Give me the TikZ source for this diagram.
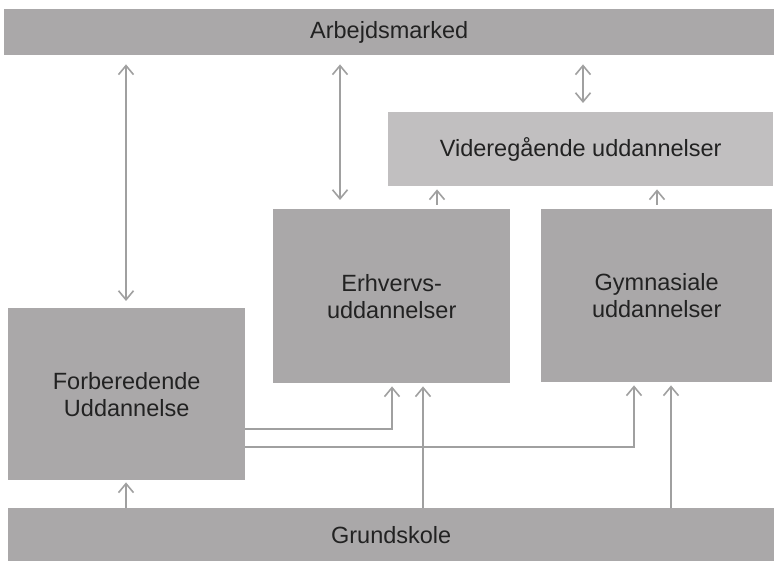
\documentclass[tikz,border=0pt]{standalone}
\usepackage{fontspec}
\setmainfont{Liberation Sans}
\usetikzlibrary{arrows.meta}
\definecolor{boxgray}{RGB}{170,168,169}
\definecolor{lightbox}{RGB}{193,191,192}
\definecolor{arrgray}{RGB}{160,160,160}
\definecolor{txt}{RGB}{34,34,34}
\begin{document}
\begin{tikzpicture}[x=1pt,y=-1pt,
  box/.style={fill=boxgray, draw=none, inner sep=0pt, anchor=north west, align=center,
    text=txt, font=\fontsize{23.5}{27}\selectfont},
  tip/.tip={Straight Barb[length=9pt,width=15pt]},
  arr/.style={draw=arrgray, line width=1.6pt, -tip},
  darr/.style={draw=arrgray, line width=1.6pt, tip-tip}]
\useasboundingbox (0,0) rectangle (774,561);
\fill[white] (0,0) rectangle (774,561);

\node[box, minimum width=770, minimum height=46] (arb) at (4,9) {Arbejdsmarked};
\node[box, fill=lightbox, minimum width=385, minimum height=74] (vid) at (388,112) {Videregående uddannelser};
\node[box, minimum width=237, minimum height=174] (erh) at (273,209) {Erhvervs-\\uddannelser};
\node[box, minimum width=231, minimum height=173] (gym) at (541,209) {Gymnasiale\\uddannelser};
\node[box, minimum width=237, minimum height=172] (forb) at (8,308) {Forberedende\\Uddannelse};
\node[box, minimum width=766, minimum height=53] (grund) at (8,508) {Grundskole};

\coordinate (xa) at (126,0);
\coordinate (xb) at (340,0);
\coordinate (xc) at (583,0);
\coordinate (xd) at (437,0);
\coordinate (xe) at (657,0);
\coordinate (xf) at (423,0);
\coordinate (xg) at (671,0);
\coordinate (p1) at (392,429);
\coordinate (p2) at (634,447);

% to Arbejdsmarked
\draw[darr, shorten <=7pt, shorten >=9pt] (forb.north -| xa) -- (arb.south -| xa);
\draw[darr, shorten <=9pt, shorten >=9pt] (erh.north -| xb) -- (arb.south -| xb);
\draw[darr, shorten <=9pt, shorten >=9pt] (vid.north -| xc) -- (arb.south -| xc);

% to Videregaaende
\draw[arr, shorten <=4pt, shorten >=3pt] (erh.north -| xd) -- (vid.south -| xd);
\draw[arr, shorten <=4pt, shorten >=3pt] (gym.north -| xe) -- (vid.south -| xe);

% from Grundskole
\draw[arr, shorten >=2pt] (grund.north -| xa) -- (forb.south -| xa);
\draw[arr, shorten >=3pt] (grund.north -| xf) -- (erh.south -| xf);
\draw[arr, shorten >=3pt] (grund.north -| xg) -- (gym.south -| xg);

% from Forberedende
\draw[arr, shorten >=3pt] (forb.east |- p1) -| (erh.south -| p1);
\draw[arr, shorten >=3pt] (forb.east |- p2) -| (gym.south -| p2);
\end{tikzpicture}
\end{document}
